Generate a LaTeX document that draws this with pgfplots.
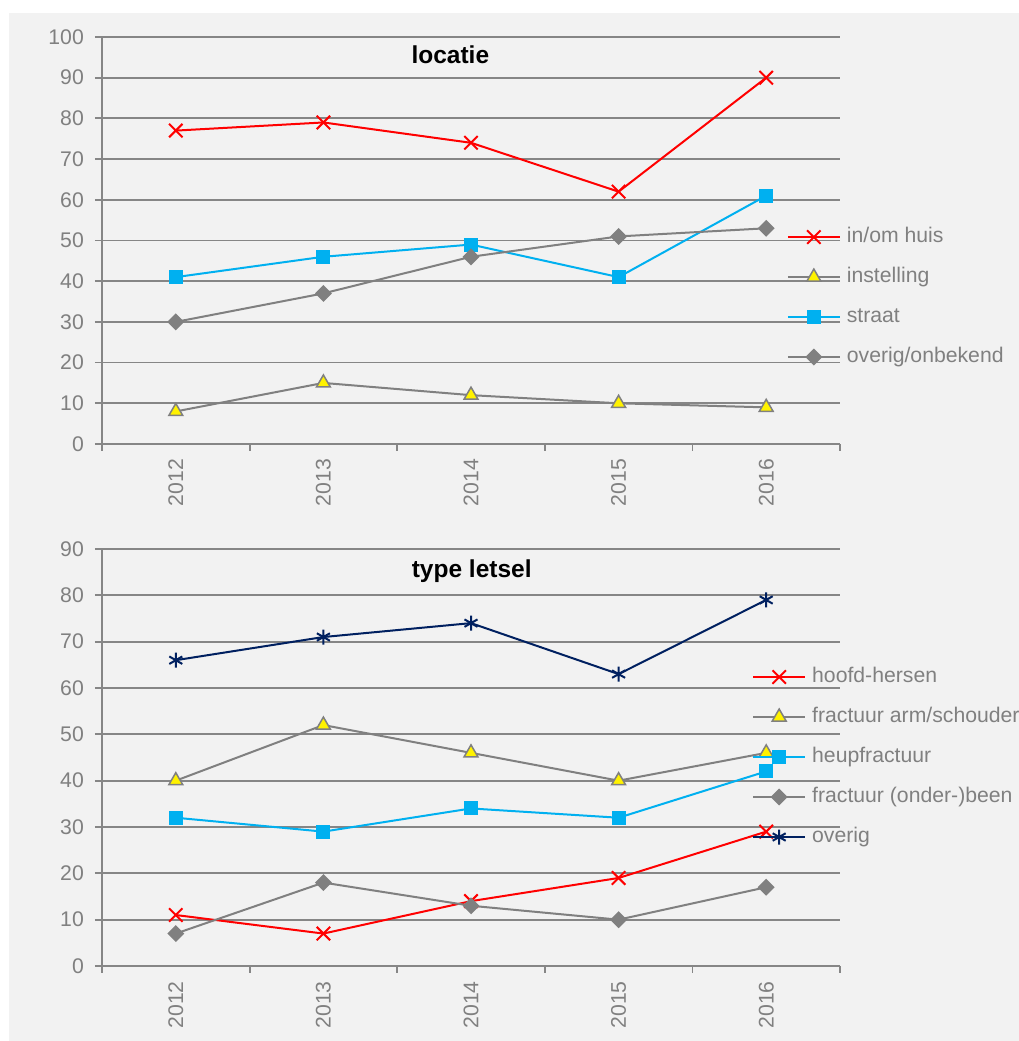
\documentclass[border=0pt]{standalone}
\usepackage{fontspec}
\setmainfont{Liberation Sans}
\usepackage{pgfplots}
\usepackage{pgfplotstable}
\pgfplotsset{compat=1.18}
\definecolor{bg}{HTML}{F2F2F2}
\definecolor{gridc}{HTML}{868686}
\definecolor{txtc}{HTML}{808080}
\definecolor{cyanc}{HTML}{00B0F0}
\definecolor{navyc}{HTML}{002060}
\definecolor{grayc}{HTML}{808080}

\pgfplotstableread{
x huis instelling straat overig
0 77 8 41 30
1 79 15 46 37
2 74 12 49 46
3 62 10 41 51
4 90 9 61 53
}\loctable

\pgfplotstableread{
x hoofd arm heup been overig
0 11 40 32 7 66
1 7 52 29 18 71
2 14 46 34 13 74
3 19 40 32 10 63
4 29 46 42 17 79
}\typetable

\pgfplotsset{
 mystyle/.style={
  scale only axis, width=738pt,
  xmin=-0.5, xmax=4.5, ymin=0,
  xtick={0,1,2,3,4}, xticklabels={2012,2013,2014,2015,2016},
  minor xtick={-0.5,0.5,1.5,2.5,3.5,4.5},
  axis x line*=bottom, axis y line*=left,
  axis line style={draw=gridc, line width=1.8pt},
  ymajorgrids, major grid style={draw=gridc, line width=1.8pt},
  tick align=outside,
  major tick length=7pt, minor tick length=7pt,
  tick style={draw=gridc, line width=1.8pt},
  every major x tick/.append style={draw=none},
  ticklabel style={font=\fontsize{21.2}{25}\selectfont, text=txtc},
  yticklabel style={inner sep=2pt, xshift=-9pt},
  xticklabel style={rotate=90, anchor=east, inner sep=8pt},
  /pgf/number format/assume math mode=true,
  legend cell align=left,
  legend image code/.code={\draw[mark repeat=2,mark phase=2,##1] plot coordinates {(0pt,0pt)(26pt,0pt)(52pt,0pt)};},
  legend style={draw=none, fill=none, inner sep=0pt, outer sep=0pt,
    font=\fontsize{21.2}{25}\selectfont, text=txtc,
    nodes={inner sep=0pt, text height=15pt, text depth=5pt},
    /tikz/column sep=6pt},
  title style={font=\fontsize{24.5}{28}\selectfont\bfseries, text=black, anchor=base, inner sep=0pt},
 },
 lw/.style={line width=2pt},
 xst/.style={red, lw, mark=x, mark size=9.5pt, mark options={line width=2pt}},
 tst/.style={grayc, lw, mark=triangle*, mark size=8pt, mark options={fill=yellow, draw=grayc, line width=1.5pt}},
 sst/.style={cyanc, lw, mark=square*, mark size=6pt, mark options={fill=cyanc, draw=cyanc}},
 dst/.style={grayc, lw, mark=square*, mark size=5pt, mark options={fill=grayc, draw=grayc, rotate=45}},
 ast/.style={navyc, lw, mark=asterisk, mark size=7.5pt, mark options={line width=2pt}},
}

\begin{document}
\begin{tikzpicture}[x=1pt,y=1pt]
\useasboundingbox (0,0) rectangle (1019,1041);
\fill[white] (0,0) rectangle (1019,1041);
\fill[bg] (9,0) rectangle (1019,1028);

\begin{axis}[mystyle, at={(102pt,597pt)}, anchor=south west, height=407pt,
  ymax=100, ytick={0,10,...,100},
  title={locatie}, title style={at={(0.472,0.921)}},
  legend style={at={(0.928,0.533)}, anchor=north west, row sep=20pt}]
\addplot[xst] table[x=x,y=huis] {\loctable};
\addlegendentry{in/om huis}
\addplot[tst] table[x=x,y=instelling] {\loctable};
\addlegendentry{instelling}
\addplot[sst] table[x=x,y=straat] {\loctable};
\addlegendentry{straat}
\addplot[dst] table[x=x,y=overig] {\loctable};
\addlegendentry{overig/onbekend}
\end{axis}

\begin{axis}[mystyle, at={(102pt,75pt)}, anchor=south west, height=417pt,
  ymax=90, ytick={0,10,...,90},
  title={type letsel}, title style={at={(0.501,0.918)}},
  legend style={at={(0.881,0.717)}, anchor=north west, row sep=20pt}]
\addplot[xst] table[x=x,y=hoofd] {\typetable};
\addlegendentry{hoofd-hersen}
\addplot[tst] table[x=x,y=arm] {\typetable};
\addlegendentry{fractuur arm/schouder}
\addplot[sst] table[x=x,y=heup] {\typetable};
\addlegendentry{heupfractuur}
\addplot[dst] table[x=x,y=been] {\typetable};
\addlegendentry{fractuur (onder-)been}
\addplot[ast] table[x=x,y=overig] {\typetable};
\addlegendentry{overig}
\end{axis}
\end{tikzpicture}
\end{document}
